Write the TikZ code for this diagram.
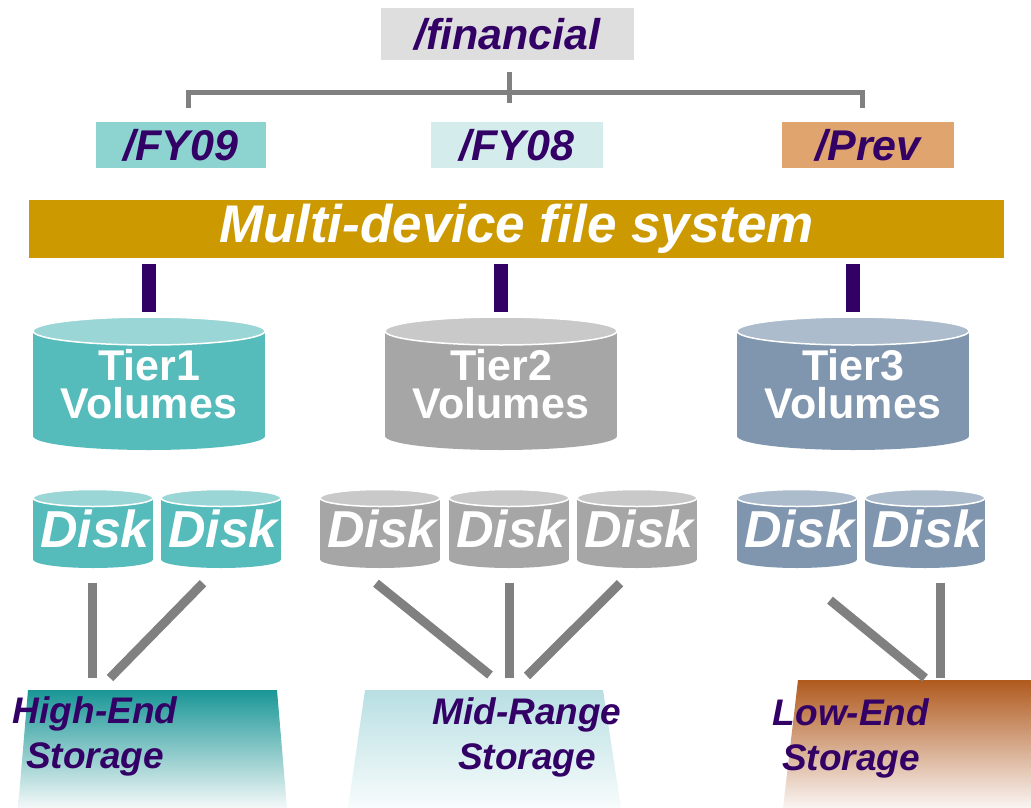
\documentclass[tikz,border=0pt]{standalone}
\usepackage{fontspec}
\setmainfont{Liberation Sans}
\usetikzlibrary{calc}

\definecolor{purp}{RGB}{51,0,102}
\definecolor{boxgray}{RGB}{222,222,222}
\definecolor{fyA}{RGB}{141,211,208}
\definecolor{fyB}{RGB}{213,236,237}
\definecolor{prevc}{RGB}{224,165,110}
\definecolor{gold}{RGB}{204,153,0}
\definecolor{linegray}{RGB}{128,128,128}
\definecolor{tierA}{RGB}{85,187,187}
\definecolor{tierAtop}{RGB}{154,214,214}
\definecolor{tierB}{RGB}{166,166,166}
\definecolor{tierBtop}{RGB}{201,201,201}
\definecolor{tierC}{RGB}{127,150,174}
\definecolor{tierCtop}{RGB}{172,188,204}
\definecolor{hiTop}{RGB}{26,150,150}
\definecolor{hiBot}{RGB}{244,248,248}
\definecolor{midTop}{RGB}{184,223,227}
\definecolor{midBot}{RGB}{248,252,252}
\definecolor{lowTop}{RGB}{176,90,30}
\definecolor{lowBot}{RGB}{250,245,243}

% cylinder: cx, ytop, ybot, rx, ry, body, top
\newcommand{\drum}[7]{%
  \fill[#6] (#1-#4,#2) rectangle (#1+#4,#3);
  \fill[#6] (#1,#3) ellipse[x radius=#4, y radius=#5];
  \filldraw[fill=#7, draw=white, line width=1.5pt] (#1,#2) ellipse[x radius=#4, y radius=#5];
}

\tikzset{
  dirbox/.style={font=\fontsize{43}{43}\selectfont\bfseries\itshape, text=purp, minimum height=46pt, inner sep=0pt},
  branch/.style={draw=linegray, line width=5pt},
  stub/.style={draw=purp, line width=14pt},
  tiertext/.style={font=\fontsize{43}{38}\selectfont\bfseries, text=white, align=center, minimum width=232pt, minimum height=133pt, inner sep=0pt},
  disktext/.style={font=\fontsize{52}{52}\selectfont\bfseries\itshape, text=white, minimum width=120pt, minimum height=79pt, inner sep=0pt},
  link/.style={draw=linegray, line width=9pt},
  storetext/.style={font=\fontsize{37}{45}\selectfont\bfseries\itshape, text=purp, align=center, inner sep=0pt}
}

\begin{document}
\begin{tikzpicture}[x=1pt,y=-1pt]
\useasboundingbox (0,0) rectangle (1031,808);

% directory tree
\node[dirbox, fill=boxgray, minimum width=253pt, minimum height=52pt] (fin) at (507.5,34) {/financial};
\node[dirbox, fill=fyA, minimum width=170pt] (fy09) at (181,145) {/FY09};
\node[dirbox, fill=fyB, minimum width=172pt] (fy08) at (517,145) {/FY08};
\node[dirbox, fill=prevc, minimum width=172pt] (prev) at (868,145) {/Prev};
\draw[branch] ($(fin.south)+(1.5,12)$) -- ($(fin.south)+(1.5,43)$);
\draw[branch] ($(fy09.north)+(7,-14)$) -- ($(fy09.north)+(7,-29)$) -| ($(prev.north)+(-6,-14)$);

\node[fill=gold, minimum width=975pt, minimum height=58pt, inner sep=0pt,
  font=\fontsize{53}{53}\selectfont\bfseries\itshape, text=white] (mdfs) at (516.5,229) {Multi-device file system};

% volumes
\drum{149}{331}{436}{116}{14}{tierA}{tierAtop}
\drum{501}{331}{436}{116}{14}{tierB}{tierBtop}
\drum{853}{331}{436}{116}{14}{tierC}{tierCtop}
\node[tiertext] (t1) at (149,384.5) {Tier1\\Volumes};
\node[tiertext] (t2) at (501,384.5) {Tier2\\Volumes};
\node[tiertext] (t3) at (853,384.5) {Tier3\\Volumes};
\draw[stub] ($(mdfs.south -| t1.north)+(0,6)$) -- ($(t1.north)+(0,-6)$);
\draw[stub] ($(mdfs.south -| t2.north)+(0,6)$) -- ($(t2.north)+(0,-6)$);
\draw[stub] ($(mdfs.south -| t3.north)+(0,6)$) -- ($(t3.north)+(0,-6)$);

% disks
\drum{93}{498}{559.5}{60}{8.5}{tierA}{tierAtop}
\drum{221}{498}{559.5}{60}{8.5}{tierA}{tierAtop}
\drum{380}{498}{559.5}{60}{8.5}{tierB}{tierBtop}
\drum{509}{498}{559.5}{60}{8.5}{tierB}{tierBtop}
\drum{637}{498}{559.5}{60}{8.5}{tierB}{tierBtop}
\drum{797}{498}{559.5}{60}{8.5}{tierC}{tierCtop}
\drum{925}{498}{559.5}{60}{8.5}{tierC}{tierCtop}
\node[disktext] (d11) at (95,528.5) {Disk};
\node[disktext] (d12) at (223,528.5) {Disk};
\node[disktext] (d21) at (382,528.5) {Disk};
\node[disktext] (d22) at (511,528.5) {Disk};
\node[disktext] (d23) at (639,528.5) {Disk};
\node[disktext] (d31) at (799,528.5) {Disk};
\node[disktext] (d32) at (927,528.5) {Disk};

% storage
\shade[top color=hiTop, bottom color=hiBot] (28,690) -- (277,690) -- (287,808) -- (18,808) -- cycle;
\shade[top color=midTop, bottom color=midBot] (365,690) -- (603,690) -- (621,808) -- (348,808) -- cycle;
\shade[top color=lowTop, bottom color=lowBot] (798,680) -- (1031,680) -- (1031,808) -- (783,808) -- cycle;
\coordinate (hi) at (101,690);
\coordinate (mid) at (509,690);
\coordinate (low) at (933,680);
\node[storetext] (hiT) at (95,736) {High-End\\Storage};
\node[storetext] (midT) at (527,737) {Mid-Range\\Storage};
\node[storetext] (lowT) at (851,738) {Low-End\\Storage};

\draw[link] ($(d11.south)+(-3,15)$) -- ($(hi)+(-9,-12)$);
\draw[link] ($(d12.south)+(-20,15)$) -- ($(hi)+(9,-12)$);
\draw[link] ($(d21.south)+(-6,15)$) -- ($(mid)+(-19,-15)$);
\draw[link] ($(d22.south)+(-2,15)$) -- ($(mid)+(0,-12)$);
\draw[link] ($(d23.south)+(-19,15)$) -- ($(mid)+(18,-14)$);
\draw[link] ($(d31.south)+(31,32)$) -- ($(low)+(-8,-2)$);
\draw[link] ($(d32.south)+(13,15)$) -- ($(low)+(7,-2)$);
\end{tikzpicture}
\end{document}
